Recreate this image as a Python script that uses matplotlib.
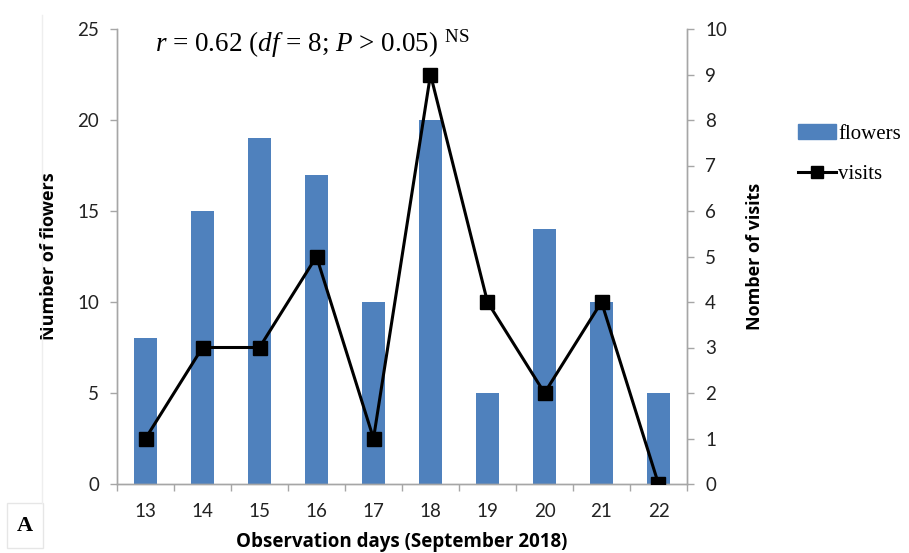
import numpy as np
import matplotlib.pyplot as plt
from matplotlib.patches import Rectangle
from matplotlib.lines import Line2D

days = ["13", "14", "15", "16", "17", "18", "19", "20", "21", "22"]
flowers = [8, 15, 19, 17, 10, 20, 5, 14, 10, 5]
visits = [1, 3, 3, 5, 1, 9, 4, 2, 4, 0]

bar_color = "#4F81BD"
grey = "#A6A6A6"
tick_font = "Lato"
serif = "Liberation Serif"

plt.rcParams["mathtext.fontset"] = "custom"
plt.rcParams["mathtext.rm"] = serif
plt.rcParams["mathtext.it"] = serif + ":italic"

fig = plt.figure(figsize=(9.09, 5.53), dpi=100)
ax = fig.add_axes([117 / 909, 1 - 484 / 553, 570 / 909, 455 / 553])
ax2 = ax.twinx()

x = np.arange(len(days))
ax.bar(x, flowers, width=0.4, color=bar_color, zorder=2)
ax2.plot(x, visits, color="black", lw=2.2, marker="s", ms=10, zorder=3)

ax.set_xlim(-0.5, len(days) - 0.5)
ax.set_ylim(0, 25)
ax2.set_ylim(0, 10)
ax.set_yticks(range(0, 26, 5))
ax2.set_yticks(range(0, 11))

ax.set_xticks(x)
ax.set_xticklabels(days)
ax.set_xticks(np.arange(-0.5, len(days)), minor=True)
ax.tick_params(axis="x", which="major", length=0, pad=14)
ax.tick_params(axis="x", which="minor", length=5, color=grey, width=1)
ax.tick_params(axis="y", length=5, color=grey, width=1, pad=8)
ax2.tick_params(axis="y", length=5, color=grey, width=1, pad=8)

for a in (ax, ax2):
    a.spines["top"].set_visible(False)
    for s in ("left", "right", "bottom"):
        a.spines[s].set_color(grey)
        a.spines[s].set_linewidth(1)
    for lab in a.get_xticklabels() + a.get_yticklabels():
        lab.set_fontfamily(tick_font)
        lab.set_fontsize(13.5)
        lab.set_color("#222222")

ax.set_xlabel("Observation days (September 2018)", fontfamily="Open Sans",
              fontweight="bold", fontsize=13.5, labelpad=8)
ax.set_ylabel("Number of flowers", fontfamily="Open Sans",
              fontweight="bold", fontsize=13, labelpad=14)
ax2.set_ylabel("Nomber of visits", fontfamily="Open Sans",
               fontweight="bold", fontsize=13, labelpad=14)

fig.text(155 / 909, 1 - 52 / 553,
         r"$r$ = 0.62 ($df$ = 8; $P$ > 0.05) $^{\rm NS}$",
         fontfamily=serif, fontsize=19.5, va="baseline")

handles = [Rectangle((0, 0), 1, 1, color=bar_color),
           Line2D([], [], color="black", lw=2.2, marker="s", ms=9)]
fig.legend(handles, ["flowers", "visits"], loc="upper left",
           bbox_to_anchor=(788 / 909, 1 - 114 / 553), frameon=False,
           prop={"family": serif, "size": 15}, handlelength=1.8,
           handletextpad=0.1, labelspacing=1.0, borderpad=0)

# panel letter box and faint left rule
fig.add_artist(Line2D([42 / 909, 42 / 909], [1 - 15 / 553, 1 - 503 / 553],
                      transform=fig.transFigure, color="#EEEEEE", lw=1))
fig.add_artist(Rectangle((7 / 909, 1 - 548 / 553), 36 / 909, 45 / 553,
                         transform=fig.transFigure, facecolor="white",
                         edgecolor="#E6E6E6", lw=1))
fig.text(25 / 909, 1 - 526 / 553, "A", fontfamily=serif, fontweight="bold",
         fontsize=16, ha="center", va="center")

fig.savefig("out.png", dpi=100)
